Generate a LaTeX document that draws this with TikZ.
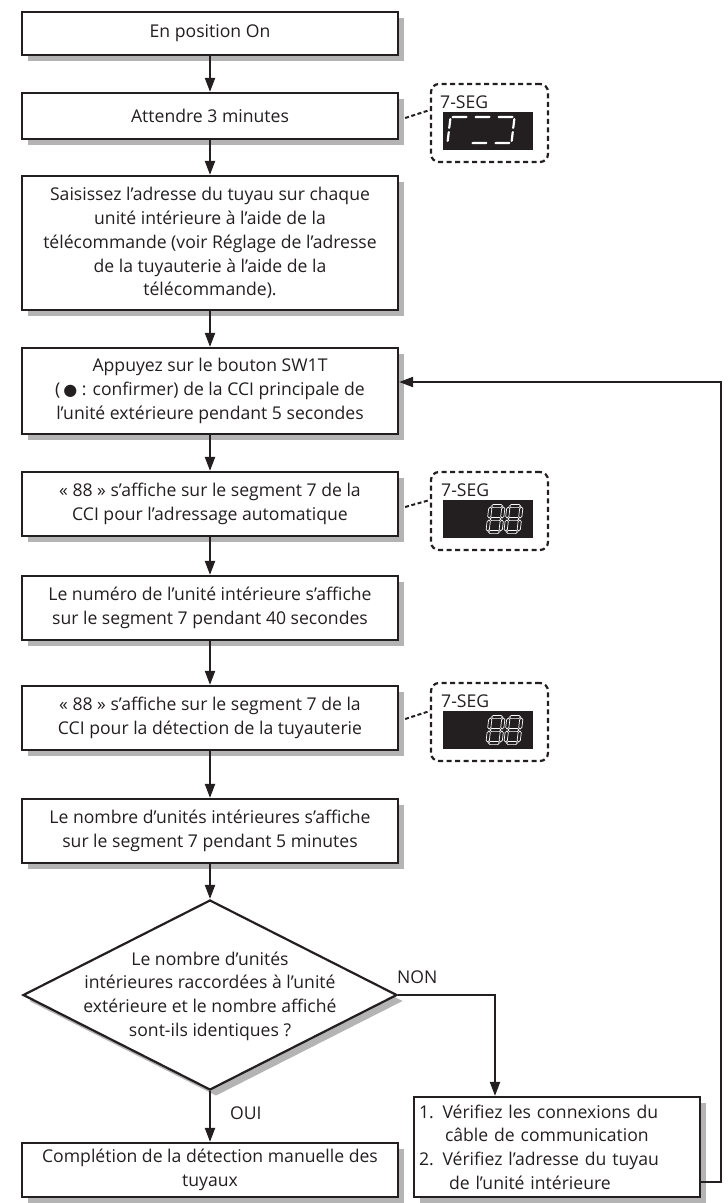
\documentclass[tikz,border=0pt]{standalone}
\usepackage{fontspec}
\setmainfont{Open Sans}
\newfontfamily\dejavu{DejaVu Sans}
\usetikzlibrary{arrows.meta,shapes.geometric,shadows,calc}
\definecolor{shadowgray}{HTML}{B4B4B4}
\definecolor{ink}{HTML}{231F20}
\newcommand\myfs{\fontsize{17.6}{23.7}\selectfont}
\def\ST{3.2}
\newcommand\hsegm[3]{\path[segsty] ({#1},{#2}) -- ++({\ST/2},{-\ST/2}) -- ({#1+#3-\ST/2},{#2-\ST/2}) -- ({#1+#3},{#2}) -- ({#1+#3-\ST/2},{#2+\ST/2}) -- ({#1+\ST/2},{#2+\ST/2}) -- cycle;}
\newcommand\vsegm[3]{\path[segsty] ({#1},{#2}) -- ++({\ST/2},{\ST/2}) -- ({#1+\ST/2},{#2+#3-\ST/2}) -- ({#1},{#2+#3}) -- ({#1-\ST/2},{#2+#3-\ST/2}) -- ({#1-\ST/2},{#2+\ST/2}) -- cycle;}
% digit eight: x, y0, W, H
\newcommand\eightdigit[4]{%
 \hsegm{#1+1}{#2}{#3-2}\hsegm{#1+1}{#2+#4}{#3-2}\hsegm{#1+1}{#2+2*#4}{#3-2}%
 \vsegm{#1}{#2+1}{#4-2}\vsegm{#1}{#2+#4+1}{#4-2}%
 \vsegm{#1+#3}{#2+1}{#4-2}\vsegm{#1+#3}{#2+#4+1}{#4-2}}
\begin{document}
\begin{tikzpicture}[x=1pt,y=-1pt,
  box/.style={draw=ink, line width=2.2pt, fill=white, align=center, inner sep=0pt,
    text=ink, font=\myfs, minimum width=376pt,
    drop shadow={shadow xshift=6pt,shadow yshift=-6pt,fill=shadowgray,opacity=1}},
  decision/.style={diamond, draw=ink, line width=2.2pt, fill=white, inner sep=0pt,
    minimum width=374pt, minimum height=190pt,
    drop shadow={shadow xshift=6pt,shadow yshift=-6pt,fill=shadowgray,opacity=1}},
  txt/.style={text=ink, font=\myfs, align=center, inner sep=0pt},
  arr/.style={draw=ink, line width=2pt, -{Triangle[length=14pt,width=10pt]}},
  segbox/.style={draw=ink, line width=2.2pt, dash pattern=on 5pt off 3.5pt,
    rounded corners=8pt, minimum width=117pt, minimum height=78pt, inner sep=0pt},
  segline/.style={draw=ink, line width=2pt, dash pattern=on 4pt off 2.5pt},
  seglabel/.style={text=ink, font=\myfs, inner sep=0pt, anchor=west},
  display/.style={fill=ink, draw=none, minimum width=90pt, minimum height=38pt, inner sep=0pt},
  segsty/.style={draw=white, line width=0.7pt}
]
\useasboundingbox (0,0) rectangle (728,1203);

% main boxes
\node[box, minimum height=43pt] (b1) at (210,33.5) {En position On};
\node[box, minimum height=46pt] (b2) at (210,116) {Attendre 3 minutes};
\node[box, minimum height=134pt] (b3) at (210,243) {Saisissez l’adresse du tuyau sur chaque\\unité intérieure à l’aide de la\\télécommande (voir Réglage de l’adresse\\de la tuyauterie à l’aide de la\\télécommande).};
\node[box, minimum height=86pt] (b4) at (210,391) {Appuyez sur le bouton SW1T\\(\,{\dejavu\fontsize{16}{23.7}\selectfont ●}~: confirmer) de la CCI principale de\\l’unité extérieure pendant 5 secondes};
\node[box, minimum height=64pt] (b5) at (210,504) {«~88~» s’affiche sur le segment 7 de la\\CCI pour l’adressage automatique};
\node[box, minimum height=64pt] (b6) at (210,608) {Le numéro de l’unité intérieure s’affiche\\sur le segment 7 pendant 40 secondes};
\node[box, minimum height=64pt] (b7) at (210,718) {«~88~» s’affiche sur le segment 7 de la\\CCI pour la détection de la tuyauterie};
\node[box, minimum height=64pt] (b8) at (210,831) {Le nombre d’unités intérieures s’affiche\\sur le segment 7 pendant 5 minutes};
\node[decision] (dia) at (210,995) {};
\node[txt] (diatext) at (210,996) {Le nombre d’unités\\intérieures raccordées à l’unité\\extérieure et le nombre affiché\\sont-ils identiques ?};
\node[box, minimum height=54pt] (b9) at (210,1170) {Complétion de la détection manuelle des\\tuyaux};
\node[box, minimum width=286pt, minimum height=100pt, text width=276pt, inner xsep=5pt, align=left] (rbox) at (557,1147)
  {1. Vérifiez les connexions du\\\hspace*{26pt}câble de communication\\2. Vérifiez l’adresse du tuyau\\\hspace*{30pt}de l’unité intérieure};

% connectors
\draw[arr] (b1) -- (b2);
\draw[arr] (b2) -- (b3);
\draw[arr] (b3) -- (b4);
\draw[arr] (b4) -- (b5);
\draw[arr] (b5) -- (b6);
\draw[arr] (b6) -- (b7);
\draw[arr] (b7) -- (b8);
\draw[arr] (b8) -- (dia);
\draw[arr] (dia.south) -- (b9.north);
\node[txt, anchor=west] (oui) at (230,1113) {OUI};
\coordinate (nk) at (495,995);
\draw[arr] (dia.east) -- (nk) -- (nk |- rbox.north);
\node[txt, anchor=west] (non) at (397,977) {NON};
\coordinate (fb1) at (721,1182);
\coordinate (fb2) at (721,382);
\draw[arr] (rbox.east |- fb1) -- (fb1) -- (fb2) -- (b4.east |- fb2);

% 7-SEG box 1
\node[segbox] (s1) at (489.5,123) {};
\node[seglabel] (l1) at (440,102) {7-SEG};
\node[display] (d1) at (488,131) {};
\draw[segline] ([xshift=6pt,yshift=-2pt]b2.east) -- ([yshift=13pt]s1.west);
\begin{scope}[shift={(0,130)}, xslant=0.12, segsty/.style={fill=white, draw=none}]
  \def\ST{2.2}
  \hsegm{450}{-13}{16}\vsegm{449}{-12}{11}\vsegm{449}{1}{11}
  \hsegm{473}{-13}{16}\hsegm{473}{13}{16}
  \hsegm{496}{-13}{16}\hsegm{496}{13}{16}\vsegm{513}{-12}{11}\vsegm{513}{1}{11}
\end{scope}

% 7-SEG box 2
\node[segbox] (s2) at (489.5,511) {};
\node[seglabel] (l2) at (441,490) {7-SEG};
\node[display] (d2) at (488,519) {};
\draw[segline] ([xshift=6pt,yshift=-3pt]b5.east) -- ([yshift=11pt]s2.west);
\begin{scope}[shift={(0,519)}, xslant=0.12]
  \eightdigit{489}{-13}{13}{13}
  \eightdigit{507}{-13}{13}{13}
\end{scope}

% 7-SEG box 3
\node[segbox] (s3) at (489.5,722) {};
\node[seglabel] (l3) at (441,701) {7-SEG};
\node[display] (d3) at (488,730) {};
\draw[segline] ([xshift=6pt,yshift=-1pt]b7.east) -- ([yshift=11pt]s3.west);
\begin{scope}[shift={(0,730)}, xslant=0.12]
  \eightdigit{489}{-13}{13}{13}
  \eightdigit{507}{-13}{13}{13}
\end{scope}
\end{tikzpicture}
\end{document}
